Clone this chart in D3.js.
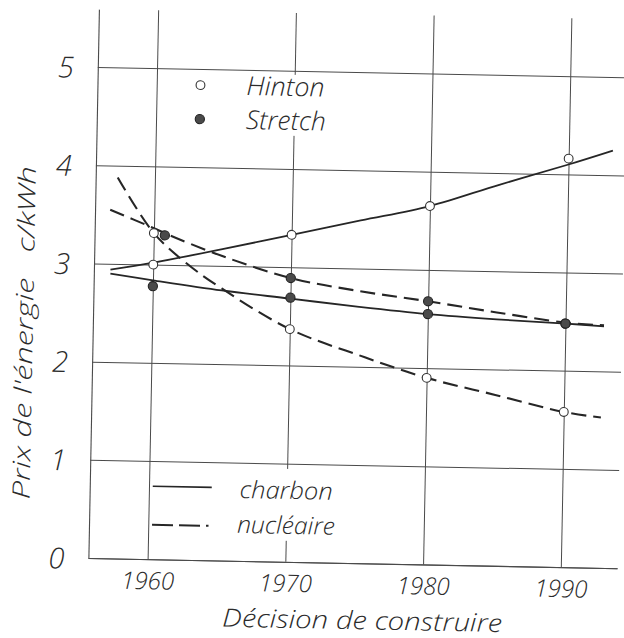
<!DOCTYPE html>
<html>
<head>
<meta charset="utf-8">
<script src="https://cdn.jsdelivr.net/npm/d3@7"></script>
<style>
  html, body { margin: 0; padding: 0; background: #ffffff; }
  svg { display: block; }
  text { font-family: "Open Sans", "Lato", "DejaVu Sans", sans-serif; font-style: italic; font-weight: 300; fill: #2b2b2b; }
</style>
</head>
<body>
<svg id="chart" width="624" height="638"></svg>
<script>
// ---- data ----
const xTickYears = [1960, 1970, 1980, 1990];
const yTickValues = [0, 1, 2, 3, 4, 5];

// measured points (markers)
const hintonYears = [1960, 1970, 1980, 1990];
const hintonCharbon = [3.00, 3.33, 3.65, 4.16];
const hintonNucleaire = [3.32, 2.37, 1.90, 1.58];
const stretchCharbonYears = [1960, 1970, 1980, 1990];
const stretchCharbon = [2.78, 2.69, 2.55, 2.48];
const stretchNucleaireYears = [1960.8, 1970, 1980, 1990];
const stretchNucleaire = [3.30, 2.89, 2.68, 2.48];

// fitted curves
const hcCurveYears = [1956.9, 1960, 1965, 1970, 1975, 1980, 1985, 1990, 1993.2];
const hcCurve      = [2.94,   3.02, 3.17, 3.33, 3.49, 3.65, 3.88, 4.10, 4.25];
const scCurveYears = [1956.9, 1960, 1965, 1970, 1975, 1980, 1985, 1990, 1992.8];
const scCurve      = [2.90,   2.84, 2.75, 2.68, 2.61, 2.55, 2.51, 2.48, 2.46];
const hnCurveYears = [1957.3, 1960, 1962.5, 1965, 1970, 1975, 1980, 1985, 1990, 1992.7];
const hnCurve      = [3.88,   3.32, 3.01,   2.77, 2.37, 2.12, 1.90, 1.74, 1.58, 1.53];
const snCurveYears = [1956.8, 1960, 1961, 1965, 1970, 1975, 1980, 1985, 1990, 1992.8];
const snCurve      = [3.55,   3.37, 3.31, 3.10, 2.89, 2.77, 2.68, 2.58, 2.49, 2.47];

const legendSeries = ["Hinton", "Stretch"];
const legendTypes = ["charbon", "nucléaire"];
const xTitle = "Décision de construire";
const yTitle = "Prix de l'énergie   c/kWh";

// ---- layout ----
const svg = d3.select("#chart");
const ink = "#262626";
const gridInk = "#4a4a4a";
const FONT = "'Open Sans', 'Lato', 'DejaVu Sans', sans-serif";

const x = d3.scaleLinear().domain([1955.7, 1994.1]).range([93, 622]);
const y = d3.scaleLinear().domain([0, 5.59]).range([563, 14]);

// whole scanned drawing is slightly rotated
const g = svg.append("g").attr("transform", "rotate(1.1,350,320)");

// horizontal grid + y labels
const yAxis = d3.axisLeft(y).tickValues(yTickValues).tickFormat(d3.format("d"))
  .tickSizeInner(-(x.range()[1] - x.range()[0])).tickSizeOuter(0).tickPadding(24);
const gy = g.append("g").attr("transform", `translate(${x.range()[0]},0)`).call(yAxis);
gy.selectAll("line").attr("stroke", gridInk).attr("stroke-width", 1);
gy.select(".domain").attr("stroke", gridInk).attr("stroke-width", 1.1);
gy.selectAll("text").attr("fill", ink).style("font-size", "29px").attr("dy", "0.36em");

// vertical grid + x labels
const xAxis = d3.axisBottom(x).tickValues(xTickYears).tickFormat(d3.format("d"))
  .tickSizeInner(-(y.range()[0] - y.range()[1])).tickSizeOuter(0).tickPadding(13);
const gx = g.append("g").attr("transform", `translate(0,${y.range()[0]})`).call(xAxis);
gx.selectAll("line").attr("stroke", gridInk).attr("stroke-width", 1);
gx.select(".domain").attr("stroke", gridInk).attr("stroke-width", 1.1);
gx.selectAll("text").attr("fill", ink).style("font-size", "24px")
  .attr("textLength", 53).attr("lengthAdjust", "spacingAndGlyphs");
svg.selectAll(".tick text").attr("font-family", null).style("font-family", FONT);

// legend backgrounds (cover the grid)
g.append("rect").attr("x", 180).attr("y", 76).attr("width", 165).attr("height", 61).attr("fill", "#fff");
g.append("rect").attr("x", 155).attr("y", 470).attr("width", 190).attr("height", 72).attr("fill", "#fff");

// curves
const line = d3.line().x(d => x(d[0])).y(d => y(d[1])).curve(d3.curveCatmullRom.alpha(0.5));
const curves = [
  {yrs: hcCurveYears, vals: hcCurve, dash: null},
  {yrs: scCurveYears, vals: scCurve, dash: null},
  {yrs: hnCurveYears, vals: hnCurve, dash: "15,7"},
  {yrs: snCurveYears, vals: snCurve, dash: "15,7"}
];
curves.forEach(c => {
  g.append("path")
    .datum(c.yrs.map((yr, i) => [yr, c.vals[i]]))
    .attr("d", line)
    .attr("fill", "none")
    .attr("stroke", ink)
    .attr("stroke-width", c.dash ? 2.1 : 1.8)
    .attr("stroke-dasharray", c.dash);
});

// markers
function dots(yrs, vals, filled) {
  g.append("g").selectAll("circle")
    .data(yrs.map((yr, i) => [yr, vals[i]]))
    .join("circle")
    .attr("cx", d => x(d[0])).attr("cy", d => y(d[1]))
    .attr("r", filled ? 4.6 : 4.4)
    .attr("fill", filled ? "#4a4a4a" : "#ffffff")
    .attr("stroke", filled ? "#222" : "#333")
    .attr("stroke-width", 1.1);
}
dots(hintonYears, hintonCharbon, false);
dots(hintonYears, hintonNucleaire, false);
dots(stretchCharbonYears, stretchCharbon, true);
dots(stretchNucleaireYears, stretchNucleaire, true);

// top legend
[[false, 88], [true, 122]].forEach(([filled, yy], i) => {
  g.append("circle").attr("cx", 196).attr("cy", yy).attr("r", filled ? 4.6 : 4.4)
    .attr("fill", filled ? "#4a4a4a" : "#fff").attr("stroke", filled ? "#222" : "#333").attr("stroke-width", 1.1);
  g.append("text").attr("x", 242).attr("y", yy + 9).style("font-size", "26px")
    .attr("textLength", i === 0 ? 78 : 80).attr("lengthAdjust", "spacingAndGlyphs")
    .text(legendSeries[i]);
});

// bottom legend
g.append("line").attr("x1", 156).attr("x2", 215).attr("y1", 490).attr("y2", 490)
  .attr("stroke", ink).attr("stroke-width", 1.7);
g.append("line").attr("x1", 156).attr("x2", 215).attr("y1", 528.5).attr("y2", 528.5)
  .attr("stroke", ink).attr("stroke-width", 2).attr("stroke-dasharray", "21,6,21,6,2.5,20");
g.append("text").attr("x", 243).attr("y", 500).style("font-size", "24px")
  .attr("textLength", 93).attr("lengthAdjust", "spacingAndGlyphs").text(legendTypes[0]);
g.append("text").attr("x", 241).attr("y", 535).style("font-size", "24px")
  .attr("textLength", 98).attr("lengthAdjust", "spacingAndGlyphs").text(legendTypes[1]);

// axis titles
g.append("text").attr("x", 368).attr("y", 629).attr("text-anchor", "middle")
  .style("font-size", "25px").attr("textLength", 280).attr("lengthAdjust", "spacingAndGlyphs")
  .text(xTitle);
g.append("text").attr("transform", "translate(33,339) rotate(-90)").attr("text-anchor", "middle")
  .style("font-size", "24px").style("white-space", "pre")
  .attr("textLength", 333).attr("lengthAdjust", "spacingAndGlyphs")
  .text(yTitle);
</script>
</body>
</html>
